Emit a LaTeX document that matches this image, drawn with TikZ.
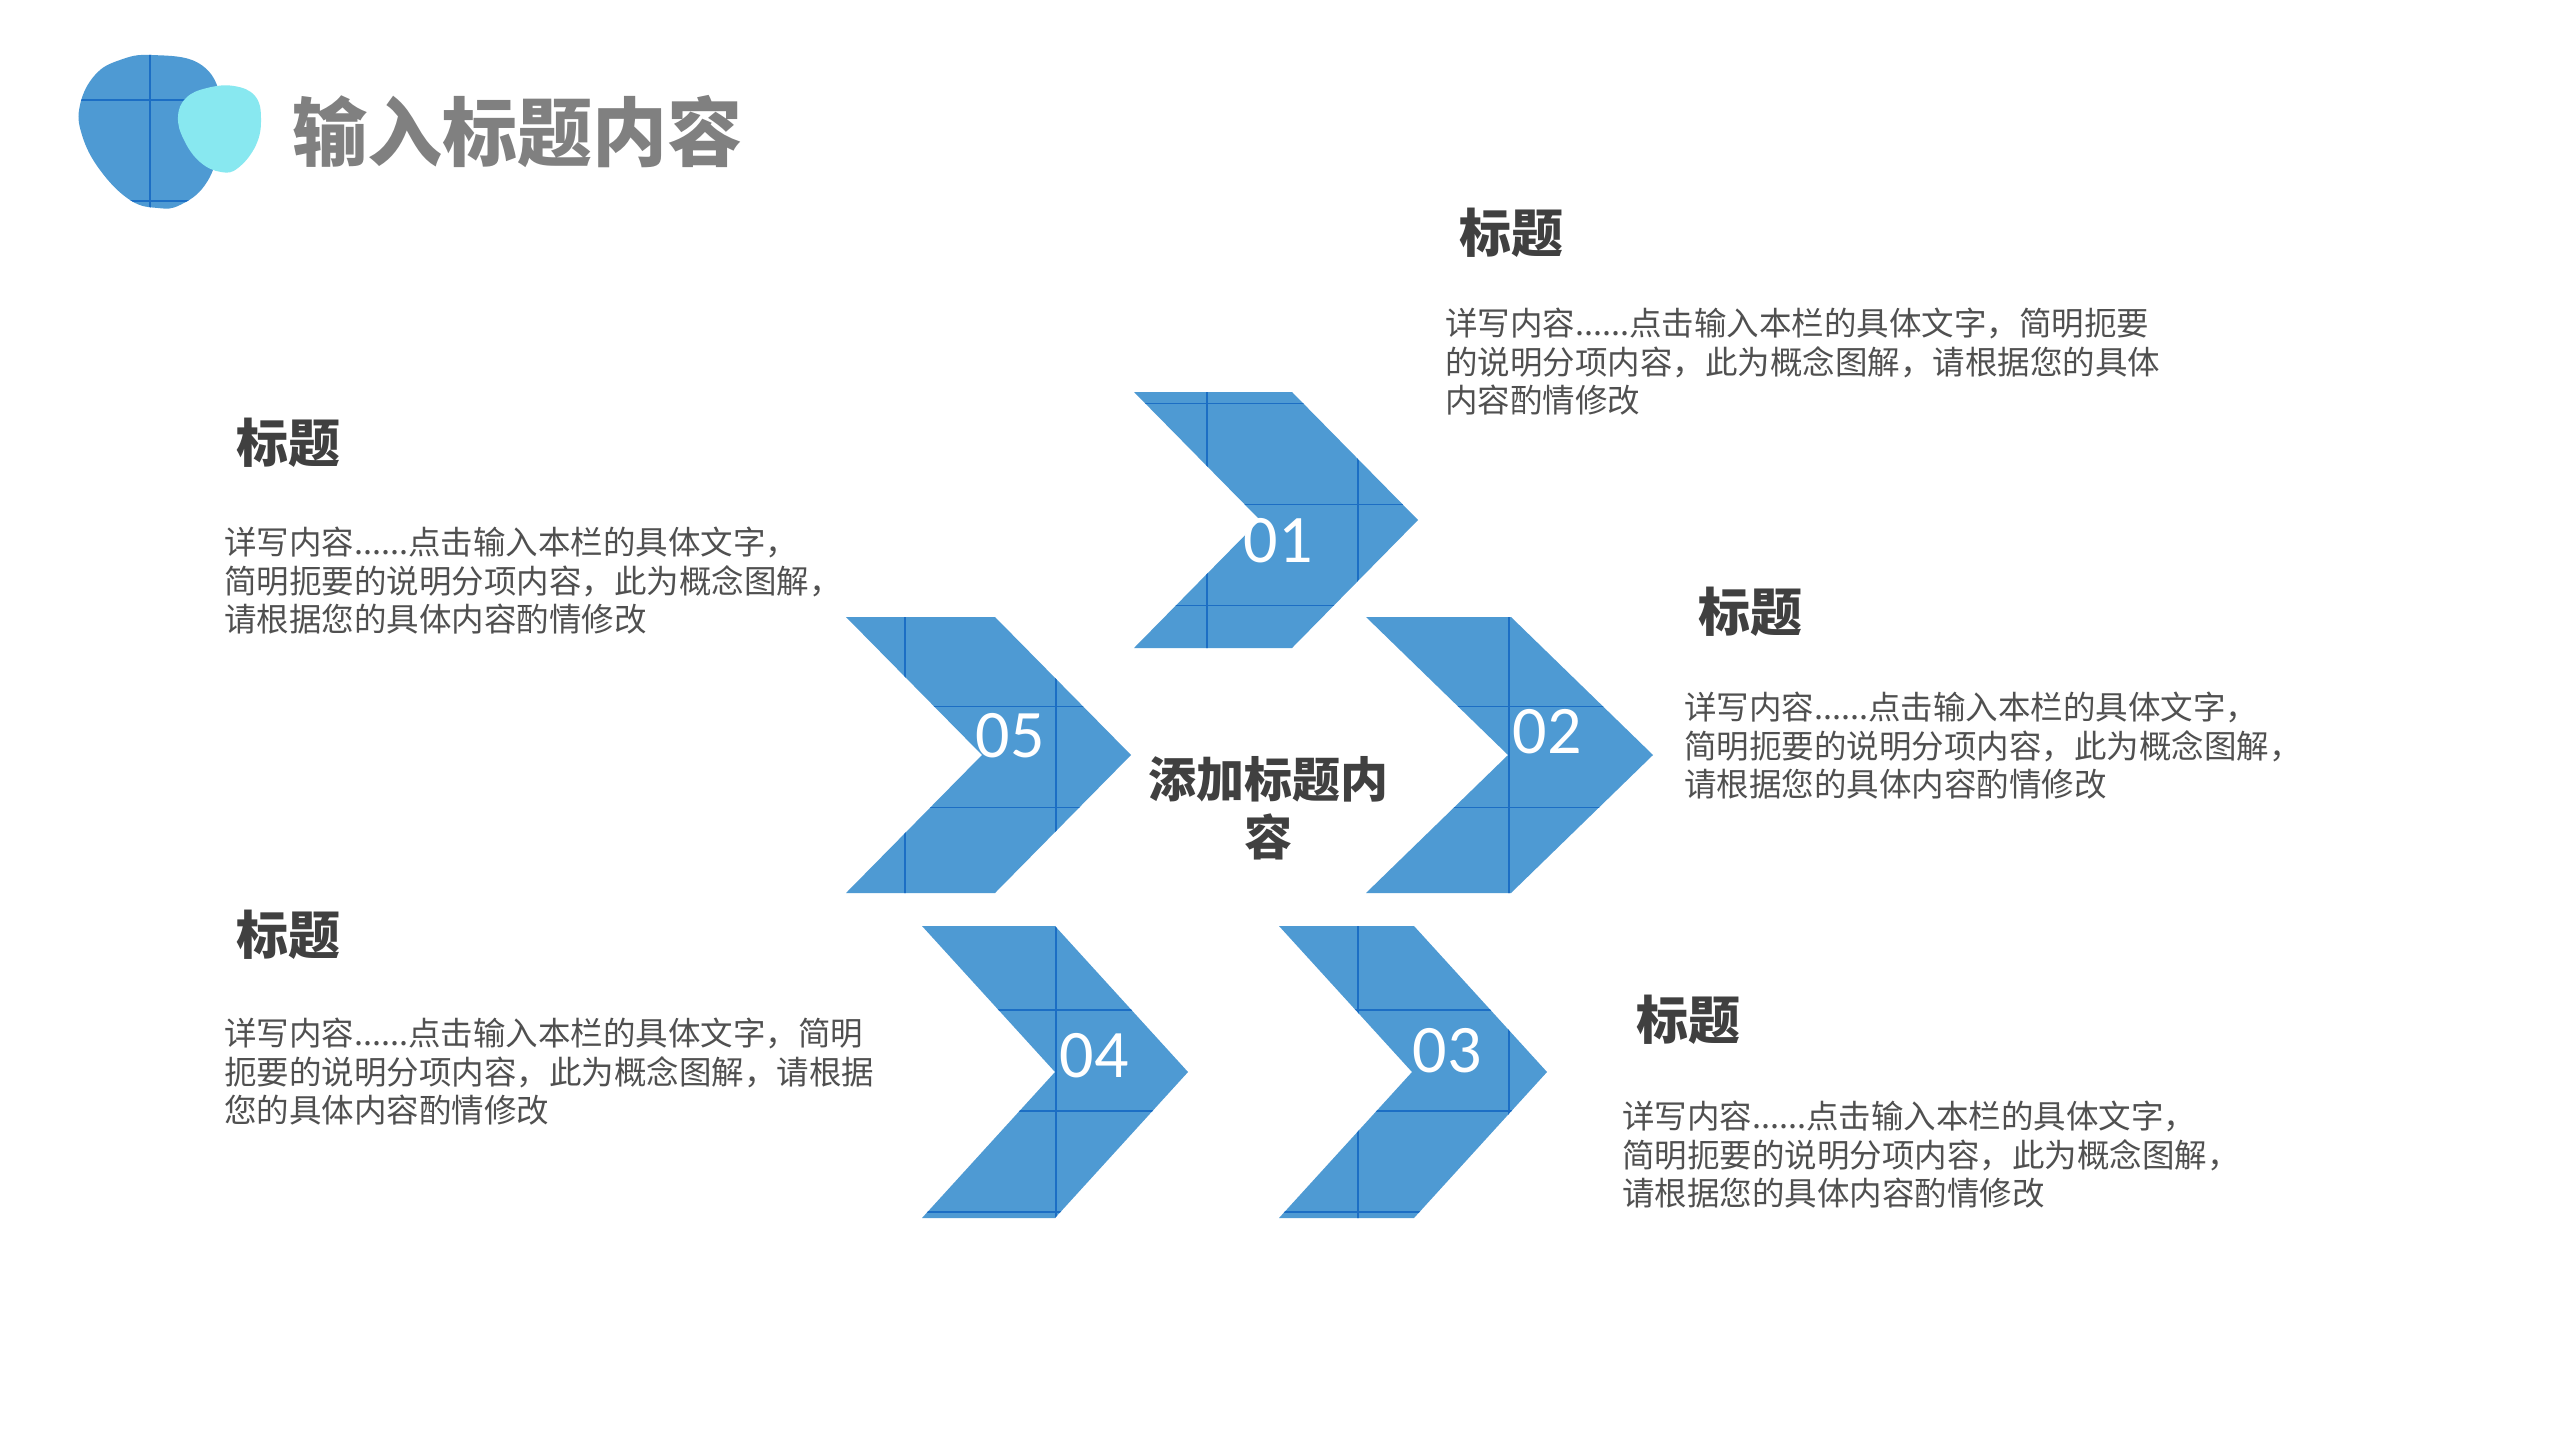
\documentclass[tikz,border=0pt]{standalone}
\usepackage{fontspec}
\setmainfont{Noto Sans CJK SC}
\newfontfamily\numfont{Carlito}
\definecolor{cblue}{RGB}{78,154,211}
\definecolor{cgrid}{RGB}{28,110,196}
\definecolor{ccyan}{RGB}{136,232,240}
\definecolor{ctitle}{RGB}{64,64,64}
\definecolor{cbody}{RGB}{80,80,80}
\definecolor{chead}{RGB}{128,128,128}
\tikzset{
  shapefill/.style={fill=cblue, draw=none},
  gl/.style={draw=cgrid, line width=1.4pt},
  num/.style={text=white, inner sep=0pt, font=\numfont\fontsize{68}{68}\selectfont},
  ttl/.style={text=ctitle, inner sep=0pt, anchor=west, font=\fontsize{52}{60}\selectfont\bfseries},
  body/.style={text=cbody, inner sep=0pt, anchor=north west, align=left, font=\fontsize{32.5}{38.5}\selectfont},
  ctr/.style={text=ctitle, inner sep=0pt, align=center, font=\fontsize{48}{58}\selectfont\bfseries},
  hdr/.style={text=chead, inner sep=0pt, anchor=west, font=\fontsize{75}{80}\selectfont\bfseries}
}
\begin{document}
\begin{tikzpicture}[x=1pt,y=-1pt]
\useasboundingbox[fill=white] (0,0) rectangle (2559,1440);
% header blob
\fill[cblue] plot[smooth cycle, tension=0.7] coordinates {(152,55) (200,64) (221,100) (218,150) (205,185) (180,205) (158,208) (130,200) (100,170) (82,135) (80,105) (95,75) (120,60)};
% chevrons
\fill[shapefill] (1134,392) -- (1292,392) -- (1418,520) -- (1292,648) -- (1134,648) -- (1260,520) -- cycle;
\fill[shapefill] (846,617) -- (995,617) -- (1131,755) -- (995,893) -- (846,893) -- (982,755) -- cycle;
\fill[shapefill] (1366,617) -- (1511,617) -- (1653,755) -- (1511,893) -- (1366,893) -- (1508,755) -- cycle;
\fill[shapefill] (922,926) -- (1055,926) -- (1188,1072) -- (1055,1218) -- (922,1218) -- (1055,1072) -- cycle;
\fill[shapefill] (1279,926) -- (1414,926) -- (1547,1072) -- (1414,1218) -- (1279,1218) -- (1412,1072) -- cycle;
% grid lines seen on the blue shapes
\begin{scope}
\clip plot[smooth cycle, tension=0.7] coordinates {(152,55) (200,64) (221,100) (218,150) (205,185) (180,205) (158,208) (130,200) (100,170) (82,135) (80,105) (95,75) (120,60)}
  (1134,392) -- (1292,392) -- (1418,520) -- (1292,648) -- (1134,648) -- (1260,520) -- cycle
  (846,617) -- (995,617) -- (1131,755) -- (995,893) -- (846,893) -- (982,755) -- cycle
  (1366,617) -- (1511,617) -- (1653,755) -- (1511,893) -- (1366,893) -- (1508,755) -- cycle
  (922,926) -- (1055,926) -- (1188,1072) -- (1055,1218) -- (922,1218) -- (1055,1072) -- cycle
  (1279,926) -- (1414,926) -- (1547,1072) -- (1414,1218) -- (1279,1218) -- (1412,1072) -- cycle;
\foreach \i in {0,...,16} \draw[gl] ({150+151*\i},0) -- ({150+151*\i},1440);
\foreach \j in {0,...,13} \draw[gl] (0,{100+101.1*\j}) -- (2559,{100+101.1*\j});
\end{scope}
\fill[ccyan] plot[smooth cycle, tension=0.7] coordinates {(234,86) (255,96) (261,118) (256,145) (238,168) (221,172) (200,162) (184,140) (178,117) (186,98) (207,88)};
% header title
\node[hdr] (head) at (292,132) {输入标题内容};
% numbers
\node[num] (n01) at (1278,541) {01};
\node[num] (n05) at (1010,736) {05};
\node[num] (n02) at (1547,732) {02};
\node[num] (n04) at (1094,1056) {04};
\node[num] (n03) at (1447,1051) {03};
% centre text
\node[ctr] (centre) at (1268,808) {添加标题内\\容};
% text blocks
\node[ttl] (t1) at (1459,233) {标题};
\node[body] (b1) at (1445,308) {详写内容......点击输入本栏的具体文字，简明扼要\\的说明分项内容，此为概念图解，请根据您的具体\\内容酌情修改};
\node[ttl] (t2) at (1698,612) {标题};
\node[body] (b2) at (1684,692) {详写内容......点击输入本栏的具体文字，\\简明扼要的说明分项内容，此为概念图解，\\请根据您的具体内容酌情修改};
\node[ttl] (t3) at (1636,1020) {标题};
\node[body] (b3) at (1622,1101) {详写内容......点击输入本栏的具体文字，\\简明扼要的说明分项内容，此为概念图解，\\请根据您的具体内容酌情修改};
\node[ttl] (t5) at (236,443) {标题};
\node[body] (b5) at (224,527) {详写内容......点击输入本栏的具体文字，\\简明扼要的说明分项内容，此为概念图解，\\请根据您的具体内容酌情修改};
\node[ttl] (t4) at (236,935) {标题};
\node[body] (b4) at (224,1018) {详写内容......点击输入本栏的具体文字，简明\\扼要的说明分项内容，此为概念图解，请根据\\您的具体内容酌情修改};
\end{tikzpicture}
\end{document}
